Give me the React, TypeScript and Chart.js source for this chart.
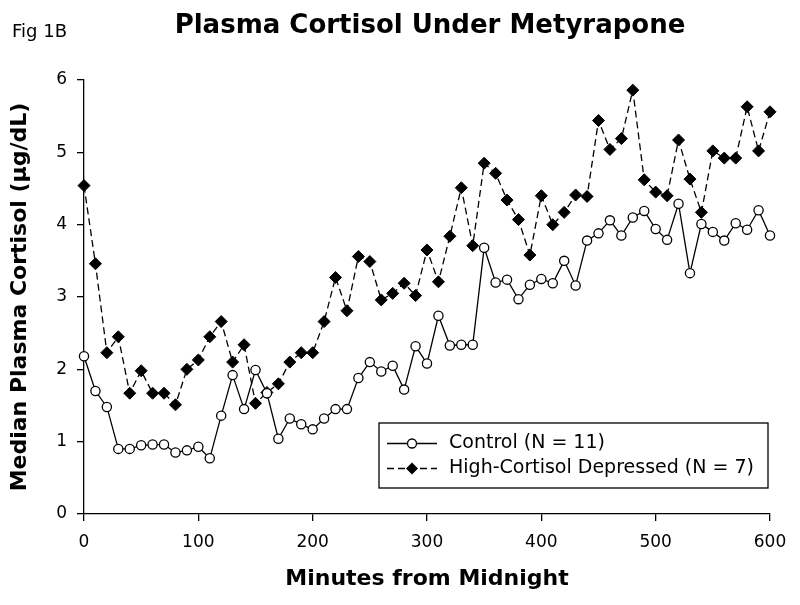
import React, { useEffect, useRef } from "react";
import { Chart, registerables } from "chart.js";

Chart.register(...registerables);

const FONT = '"DejaVu Sans", "Liberation Sans", sans-serif';

const TITLE = "Plasma Cortisol Under Metyrapone";
const FIG_LABEL = "Fig 1B";
const X_TITLE = "Minutes from Midnight";
const Y_TITLE = "Median Plasma Cortisol (μg/dL)";
const CONTROL_LABEL = "Control (N = 11)";
const HIGH_LABEL = "High-Cortisol Depressed (N = 7)";

const minutes = [
  0, 10, 20, 30, 40, 50, 60, 70, 80, 90,
  100, 110, 120, 130, 140, 150, 160, 170, 180, 190,
  200, 210, 220, 230, 240, 250, 260, 270, 280, 290,
  300, 310, 320, 330, 340, 350, 360, 370, 380, 390,
  400, 410, 420, 430, 440, 450, 460, 470, 480, 490,
  500, 510, 520, 530, 540, 550, 560, 570, 580, 590,
  600,
];

const control = [
  2.18, 1.70, 1.48, 0.90, 0.90, 0.95, 0.96, 0.96, 0.85, 0.88,
  0.93, 0.77, 1.36, 1.92, 1.45, 1.99, 1.67, 1.04, 1.32, 1.24,
  1.17, 1.32, 1.45, 1.45, 1.88, 2.10, 1.97, 2.05, 1.72, 2.32,
  2.08, 2.74, 2.33, 2.34, 2.34, 3.68, 3.20, 3.24, 2.97, 3.17,
  3.25, 3.19, 3.50, 3.16, 3.78, 3.88, 4.06, 3.85, 4.10, 4.19,
  3.94, 3.79, 4.29, 3.33, 4.01, 3.90, 3.78, 4.02, 3.93, 4.20,
  3.85,
];

const highCortisol = [
  4.54, 3.46, 2.23, 2.45, 1.67, 1.98, 1.67, 1.67, 1.51, 2.00,
  2.13, 2.45, 2.66, 2.10, 2.34, 1.53, 1.68, 1.80, 2.10, 2.23,
  2.23, 2.66, 3.27, 2.81, 3.56, 3.49, 2.96, 3.05, 3.19, 3.02,
  3.65, 3.21, 3.84, 4.51, 3.71, 4.85, 4.71, 4.34, 4.07, 3.58,
  4.40, 4.00, 4.17, 4.41, 4.39, 5.44, 5.04, 5.19, 5.86, 4.62,
  4.45, 4.40, 5.17, 4.63, 4.17, 5.02, 4.92, 4.92, 5.63, 5.02,
  5.56,
];

const X_TICKS = [0, 100, 200, 300, 400, 500, 600];
const Y_TICKS = [0, 1, 2, 3, 4, 5, 6];

const overlayPlugin = {
  id: "overlay",
  afterDraw(chart: any) {
    const ctx: CanvasRenderingContext2D = chart.ctx;
    ctx.save();
    ctx.fillStyle = "#000";
    ctx.textBaseline = "alphabetic";
    ctx.font = `bold 26px ${FONT}`;
    ctx.textAlign = "center";
    ctx.fillText(TITLE, 430, 33);
    ctx.font = `18px ${FONT}`;
    ctx.textAlign = "left";
    ctx.fillText(FIG_LABEL, 12, 37);

    // legend box
    const bx = 379, by = 423, bw = 389, bh = 65;
    ctx.fillStyle = "#fff";
    ctx.fillRect(bx, by, bw, bh);
    ctx.strokeStyle = "#000";
    ctx.lineWidth = 1.3;
    ctx.strokeRect(bx, by, bw, bh);

    const rowY = [443.5, 468.5];
    chart.data.datasets.forEach((ds: any, i: number) => {
      const y = rowY[i];
      ctx.strokeStyle = "#000";
      ctx.lineWidth = 1.3;
      ctx.setLineDash(ds.borderDash || []);
      ctx.beginPath();
      ctx.moveTo(387, y);
      ctx.lineTo(437, y);
      ctx.stroke();
      ctx.setLineDash([]);
      const mx = 412;
      if (ds.pointStyle === "circle") {
        ctx.beginPath();
        ctx.arc(mx, y, 4.5, 0, Math.PI * 2);
        ctx.fillStyle = "#fff";
        ctx.fill();
        ctx.stroke();
      } else {
        ctx.beginPath();
        ctx.moveTo(mx - 6, y);
        ctx.lineTo(mx, y - 6);
        ctx.lineTo(mx + 6, y);
        ctx.lineTo(mx, y + 6);
        ctx.closePath();
        ctx.fillStyle = "#000";
        ctx.fill();
      }
      ctx.fillStyle = "#000";
      ctx.font = `19px ${FONT}`;
      ctx.textAlign = "left";
      ctx.textBaseline = "middle";
      ctx.fillText(ds.label, 449, y);
    });
    ctx.restore();
  },
};

export default function App() {
  const ref = useRef<HTMLCanvasElement | null>(null);

  useEffect(() => {
    if (!ref.current) return;
    Chart.defaults.font.family = FONT;
    Chart.defaults.color = "#000";
    const chart = new Chart(ref.current, {
      type: "line",
      data: {
        datasets: [
          {
            label: CONTROL_LABEL,
            data: minutes.map((m, i) => ({ x: m, y: control[i] })),
            borderColor: "#000",
            borderWidth: 1.3,
            pointStyle: "circle",
            pointRadius: 4.6,
            pointBackgroundColor: "#fff",
            pointBorderColor: "#000",
            pointBorderWidth: 1.3,
            tension: 0,
            clip: false,
          },
          {
            label: HIGH_LABEL,
            data: minutes.map((m, i) => ({ x: m, y: highCortisol[i] })),
            borderColor: "#000",
            borderWidth: 1.3,
            borderDash: [7, 4],
            pointStyle: "rectRot",
            pointRadius: 6,
            pointBackgroundColor: "#000",
            pointBorderColor: "#000",
            pointBorderWidth: 1,
            tension: 0,
            clip: false,
          },
        ],
      },
      options: {
        animation: false,
        responsive: true,
        maintainAspectRatio: false,
        layout: { padding: { top: 80, right: 30, left: 0, bottom: 0 } },
        plugins: {
          legend: { display: false },
          tooltip: { enabled: false },
          title: { display: false },
        },
        scales: {
          x: {
            type: "linear",
            min: 0,
            max: 600,
            afterFit: (s: any) => {
              s.height = 91;
            },
            afterBuildTicks: (s: any) => {
              s.ticks = X_TICKS.map((v) => ({ value: v }));
            },
            ticks: {
              font: { size: 17 },
              color: "#000",
              padding: 11,
              maxRotation: 0,
            },
            grid: {
              display: true,
              drawOnChartArea: false,
              drawTicks: true,
              tickLength: 7,
              color: "#000",
              lineWidth: 1.3,
            },
            border: { display: true, color: "#000", width: 1.3 },
            title: {
              display: true,
              text: X_TITLE,
              font: { size: 22, weight: "bold" },
              color: "#000",
              padding: { top: 0, bottom: 13 },
            },
          },
          y: {
            type: "linear",
            min: 0,
            max: 6,
            afterFit: (s: any) => {
              s.width = 84;
            },
            afterBuildTicks: (s: any) => {
              s.ticks = Y_TICKS.map((v) => ({ value: v }));
            },
            ticks: {
              font: { size: 17 },
              color: "#000",
              padding: 10,
            },
            grid: {
              display: true,
              drawOnChartArea: false,
              drawTicks: true,
              tickLength: 7,
              color: "#000",
              lineWidth: 1.3,
            },
            border: { display: true, color: "#000", width: 1.3 },
            title: {
              display: true,
              text: Y_TITLE,
              font: { size: 22, weight: "bold" },
              color: "#000",
              padding: { top: 7, bottom: 0 },
            },
          },
        },
      },
      plugins: [overlayPlugin],
    });
    return () => chart.destroy();
  }, []);

  return (
    <div
      style={{
        position: "fixed",
        left: 0,
        top: 0,
        width: 800,
        height: 605,
        background: "#fff",
      }}
    >
      <canvas ref={ref} />
    </div>
  );
}
